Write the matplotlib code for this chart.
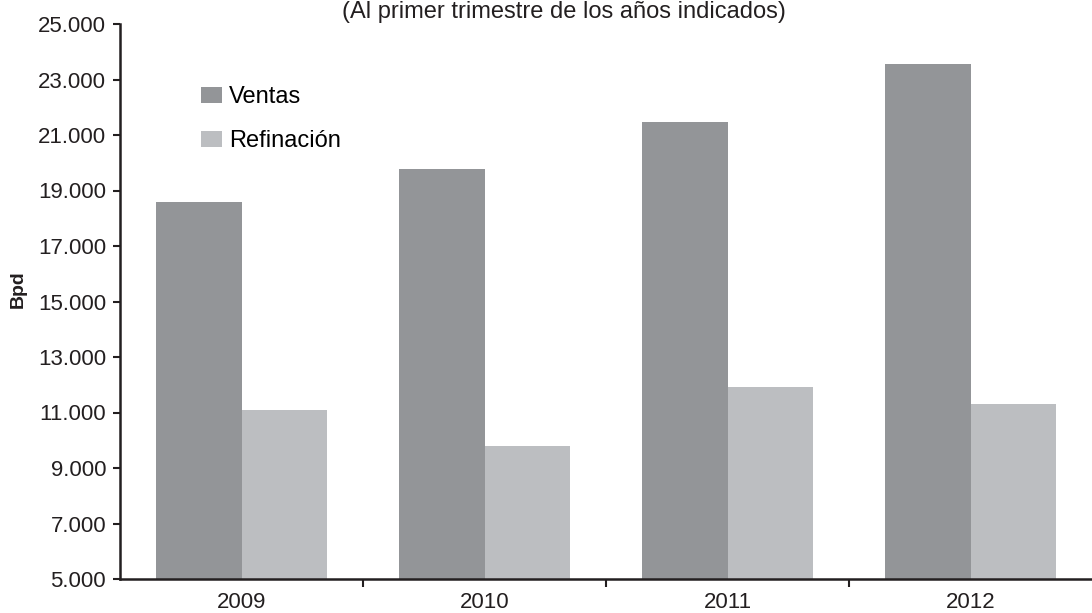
import matplotlib
matplotlib.use("Agg")
import matplotlib.pyplot as plt
from matplotlib.ticker import FuncFormatter, FixedLocator

# data
years = ["2009", "2010", "2011", "2012"]
ventas = [18570, 19790, 21460, 23560]
refinacion = [11080, 9790, 11930, 11300]

COLORS = {"ventas": "#939598", "refinacion": "#BCBEC1", "text": "#231F20"}

plt.rcParams["font.family"] = ["Liberation Sans", "DejaVu Sans"]

fig = plt.figure(figsize=(10.92, 6.13), dpi=100)
ax = fig.add_axes([120 / 1092, 1 - 579 / 613, 1 - 120 / 1092, (579 - 24) / 613])

x = range(len(years))
w = 0.35
ax.bar([i - w / 2 for i in x], ventas, width=w, color=COLORS["ventas"], label="Ventas")
ax.bar([i + w / 2 for i in x], refinacion, width=w, color=COLORS["refinacion"], label="Refinación")

ax.set_xlim(-0.5, 3.5)
ax.set_ylim(5000, 25000)
ax.set_yticks(range(5000, 25001, 2000))
ax.yaxis.set_major_formatter(FuncFormatter(lambda v, p: f"{int(v):,}".replace(",", ".")))

ax.set_xticks(list(x))
ax.set_xticklabels(years)
ax.xaxis.set_minor_locator(FixedLocator([0.5, 1.5, 2.5]))
ax.tick_params(axis="x", which="major", length=0, pad=9.5, labelsize=16, colors=COLORS["text"])
ax.tick_params(axis="x", which="minor", length=6, width=1.5, direction="out", color=COLORS["text"])
ax.tick_params(axis="y", length=5, width=1.5, direction="out", pad=5, labelsize=16, colors=COLORS["text"])

for s in ["top", "right"]:
    ax.spines[s].set_visible(False)
for s in ["left", "bottom"]:
    ax.spines[s].set_linewidth(1.8)
    ax.spines[s].set_color(COLORS["text"])

ax.set_ylabel("Bpd", fontsize=14, fontweight="bold", color=COLORS["text"])
ax.yaxis.set_label_coords(-93 / 972, (579 - 289) / 555)

ax.legend(loc="upper left", bbox_to_anchor=(201 / 1092, 1 - 86 / 613),
          bbox_transform=fig.transFigure, frameon=False, fontsize=17,
          handlelength=0.89, handleheight=0.65, handletextpad=0.3,
          labelspacing=0.95, borderpad=0, borderaxespad=0)

fig.text(564 / 1092, 1 - 12 / 613, "(Al primer trimestre de los años indicados)",
         ha="center", va="center", fontsize=17, color=COLORS["text"])

fig.savefig("out.png", dpi=100)
